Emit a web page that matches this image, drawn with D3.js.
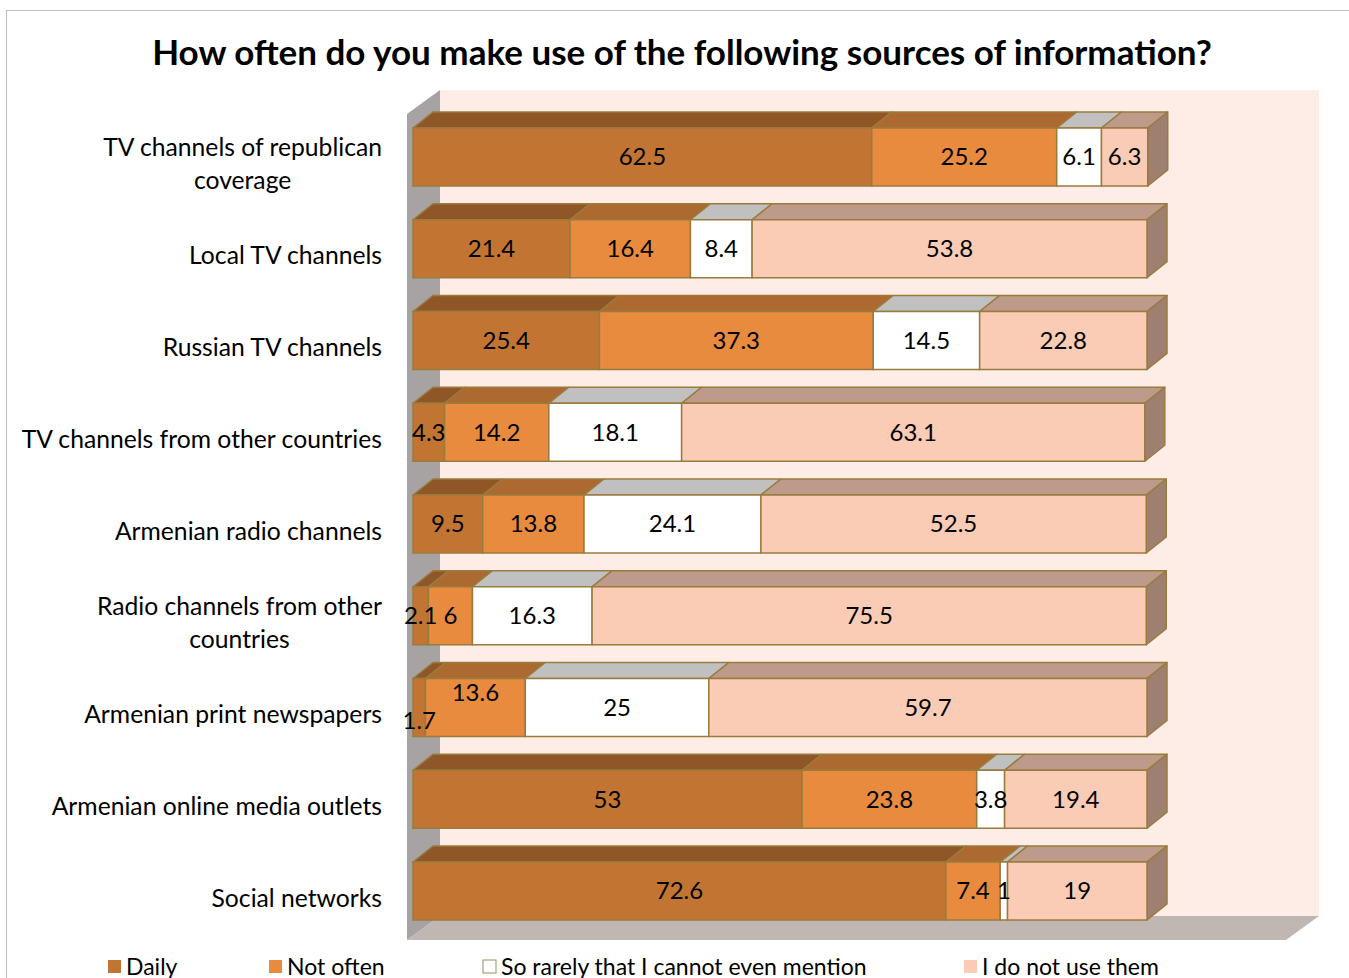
<!DOCTYPE html>
<html>
<head>
<meta charset="utf-8">
<script src="https://cdn.jsdelivr.net/npm/d3@7/dist/d3.min.js"></script>
<style>
  html, body { margin: 0; padding: 0; background: #fff; }
  svg { display: block; }
  text { font-family: Lato, "Open Sans", sans-serif; fill: #000; }
</style>
</head>
<body>
<svg id="chart" width="1349" height="978"></svg>
<script>
// Survey categories (a "\n" marks where the axis label wraps)
const categories = [
  "TV channels of republican\ncoverage",
  "Local TV channels",
  "Russian TV channels",
  "TV channels from other countries",
  "Armenian radio channels",
  "Radio channels from other\ncountries",
  "Armenian print newspapers",
  "Armenian online media outlets",
  "Social networks"
];

const seriesNames = ["Daily", "Not often", "So rarely that I cannot even mention", "I do not use them"];

// Percent of respondents per answer
const daily     = [62.5, 21.4, 25.4, 4.3, 9.5, 2.1, 1.7, 53, 72.6];
const notOften  = [25.2, 16.4, 37.3, 14.2, 13.8, 6, 13.6, 23.8, 7.4];
const rarely    = [6.1, 8.4, 14.5, 18.1, 24.1, 16.3, 25, 3.8, 1];
const doNotUse  = [6.3, 53.8, 22.8, 63.1, 52.5, 75.5, 59.7, 19.4, 19];

const xTicks = [0, 100];

// Face colours per series: front, top, side
const palette = [
  { front: "#C27533", top: "#8F5628", side: "#8F5628" },
  { front: "#E88B3F", top: "#AD6A30", side: "#AD6A30" },
  { front: "#FFFFFF", top: "#C0C0C0", side: "#C0C0C0" },
  { front: "#FACBB5", top: "#BD9A8A", side: "#9E8071" }
];
const edge = "#9A7B3E";

const svg = d3.select("#chart");

// Chart area frame
svg.append("rect")
  .attr("x", 6.5).attr("y", 10.5)
  .attr("width", 1400).attr("height", 1000)
  .attr("fill", "none").attr("stroke", "#BFBFBF").attr("stroke-width", 1);

// Title
svg.append("text")
  .attr("x", 682).attr("y", 65)
  .attr("text-anchor", "middle")
  .style("font-size", "35px").style("font-weight", "bold")
  .text("How often do you make use of the following sources of information?");

// Scales
const x = d3.scaleLinear().domain(d3.extent(xTicks)).range([413, 1147]);
const y = d3.scalePoint().domain(categories).range([157, 891]);
const barH = 58;
const ddx = 20, ddy = 16;        // bar depth
const wdx = 33, wdy = 24;        // wall depth

// Walls and floor
const wallX0 = x(0) - 6, wallTop = 90, wallBottom = 916, wallRight = 1319;
svg.append("rect")
  .attr("x", wallX0 + wdx).attr("y", wallTop)
  .attr("width", wallRight - wallX0 - wdx).attr("height", wallBottom - wallTop)
  .attr("fill", "#FDEDE6");
svg.append("path")
  .attr("d", `M${wallX0},${wallTop + wdy}L${wallX0 + wdx},${wallTop}L${wallX0 + wdx},${wallBottom}L${wallX0},${wallBottom + wdy}Z`)
  .attr("fill", "#A7A3A3");
svg.append("path")
  .attr("d", `M${wallX0},${wallBottom + wdy}L${wallX0 + wdx},${wallBottom}L${wallRight},${wallBottom}L${wallRight - wdx},${wallBottom + wdy}Z`)
  .attr("fill", "#C0B6B2");

// Stack the series
const rows = categories.map((c, i) => ({ cat: c, vals: [daily[i], notOften[i], rarely[i], doNotUse[i]] }));

// Label nudges where neighbouring small labels would collide
const nudge = { "6-0": 13, "6-1": -15 };

const gBars = svg.append("g");
rows.forEach((row, ri) => {
  const cy = y(row.cat);
  const y0 = cy - barH / 2, y1 = cy + barH / 2;
  let acc = 0;
  const segs = row.vals.map((v, si) => {
    const s = { si, v, a: acc, b: acc + v };
    acc += v;
    return s;
  });
  const g = gBars.append("g");
  // top faces
  segs.forEach(s => {
    const xa = x(s.a), xb = x(s.b);
    g.append("path")
      .attr("d", `M${xa},${y0}L${xa + ddx},${y0 - ddy}L${xb + ddx},${y0 - ddy}L${xb},${y0}Z`)
      .attr("fill", palette[s.si].top).attr("stroke", edge).attr("stroke-width", 1.5)
      .attr("stroke-linejoin", "round");
  });
  // right side face of the last segment
  const last = segs[segs.length - 1];
  const xe = x(last.b);
  g.append("path")
    .attr("d", `M${xe},${y0}L${xe + ddx},${y0 - ddy}L${xe + ddx},${y1 - ddy}L${xe},${y1}Z`)
    .attr("fill", palette[last.si].side).attr("stroke", edge).attr("stroke-width", 1.5)
    .attr("stroke-linejoin", "round");
  // front faces
  segs.forEach(s => {
    g.append("rect")
      .attr("x", x(s.a)).attr("y", y0)
      .attr("width", x(s.b) - x(s.a)).attr("height", barH)
      .attr("fill", palette[s.si].front).attr("stroke", edge).attr("stroke-width", 1.5);
  });
  // value labels
  segs.forEach(s => {
    const off = nudge[`${ri}-${s.si}`] || 0;
    g.append("text")
      .attr("x", (x(s.a) + x(s.b)) / 2)
      .attr("y", cy + off)
      .attr("dy", "0.35em")
      .attr("text-anchor", "middle")
      .style("font-size", "24px")
      .text(d3.format("~g")(s.v));
  });
});

// Category axis labels: block right-aligned, lines centred within the block
const labelRight = 382;
const gCats = svg.append("g");
categories.forEach(c => {
  const lines = c.split("\n");
  const t = gCats.append("text").style("font-size", "24.7px").attr("text-anchor", "middle");
  const lineH = 33;
  const cy = y(c) + 7;
  lines.forEach((ln, li) => {
    t.append("tspan")
      .attr("y", cy + (li - (lines.length - 1) / 2) * lineH)
      .attr("dy", "0.35em")
      .text(ln);
  });
  let w = 0;
  t.selectAll("tspan").each(function () { w = Math.max(w, this.getComputedTextLength()); });
  t.selectAll("tspan").attr("x", labelRight - w / 2);
});

// Legend
const legendX = [108, 269, 483, 964];
const legend = svg.append("g");
seriesNames.forEach((name, i) => {
  legend.append("rect")
    .attr("x", legendX[i]).attr("y", 960)
    .attr("width", 13).attr("height", 13)
    .attr("fill", palette[i].front)
    .attr("stroke", i === 2 ? "#A08A60" : "none").attr("stroke-width", 1);
  legend.append("text")
    .attr("x", legendX[i] + 18).attr("y", 967)
    .attr("dy", "0.35em")
    .style("font-size", "23px")
    .text(name);
});
</script>
</body>
</html>
